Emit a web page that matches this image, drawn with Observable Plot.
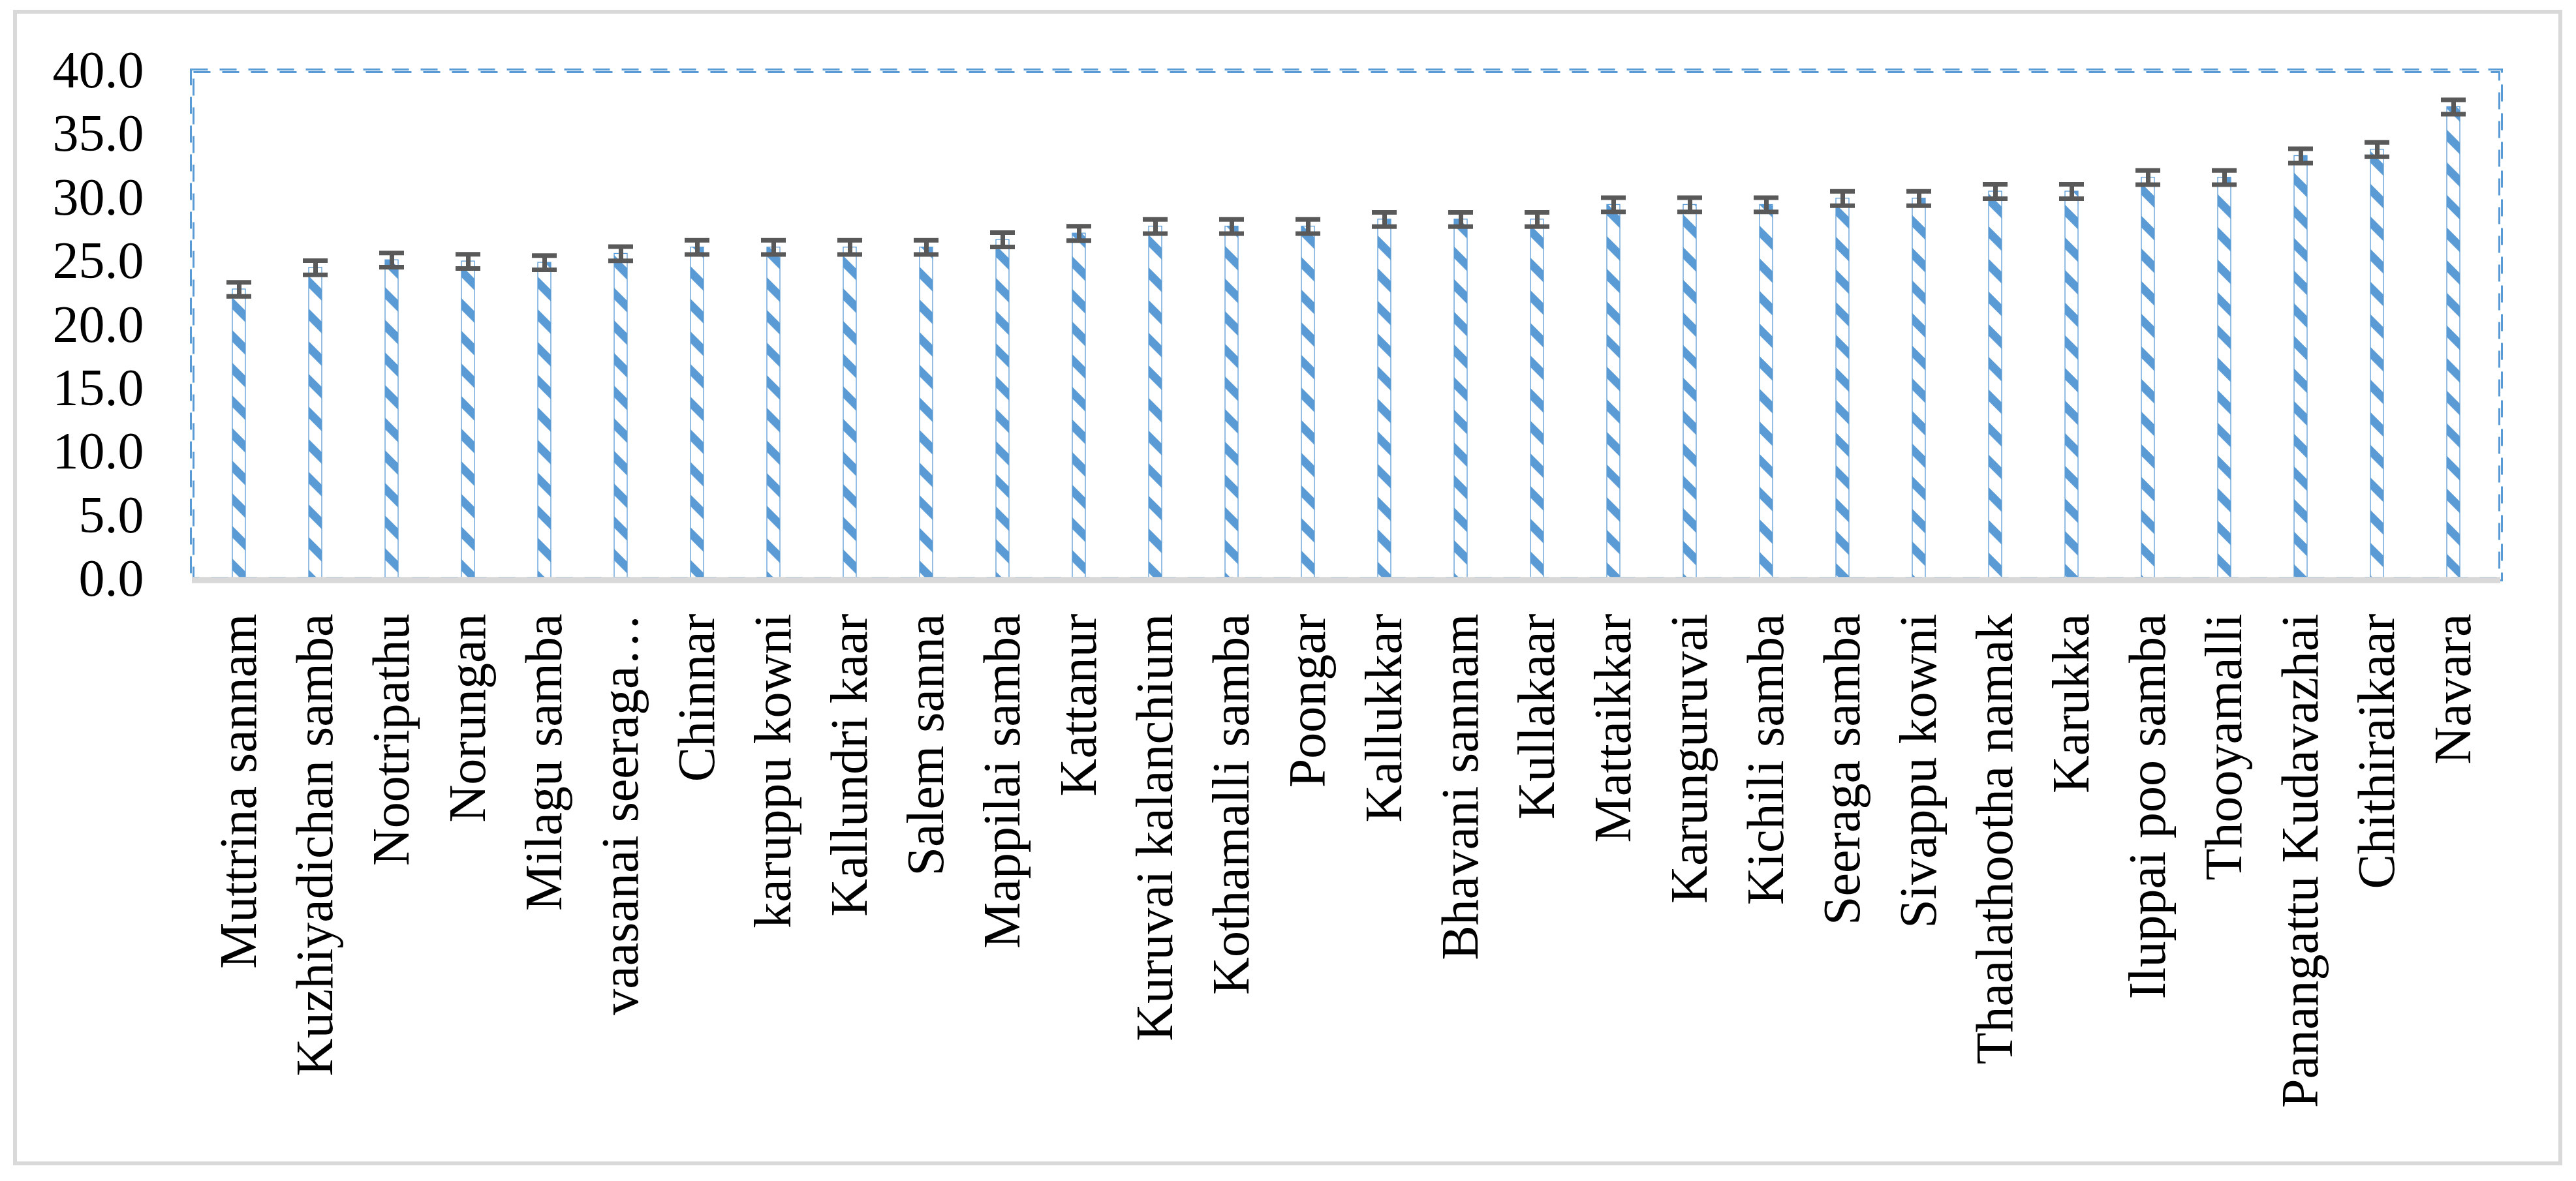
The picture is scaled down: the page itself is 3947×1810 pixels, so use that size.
<!DOCTYPE html>
<html>
<head>
<meta charset="utf-8">
<script src="https://cdn.jsdelivr.net/npm/d3@7"></script>
<script src="https://cdn.jsdelivr.net/npm/@observablehq/plot@0.6"></script>
<style>
html, body { margin: 0; padding: 0; background: #fff; }
#wrap { position: relative; width: 3947px; height: 1810px; overflow: hidden; }
#border { position: absolute; left: 20px; top: 15px; width: 3906px; height: 1771px; box-sizing: border-box; border: 6.5px solid #d9d9d9; pointer-events: none; }
</style>
</head>
<body>
<div id="wrap"><div id="border"></div></div>
<script>
// Rice varieties (categories)
const varieties = [
  "Muttrina sannam", "Kuzhiyadichan samba", "Nootripathu", "Norungan", "Milagu samba",
  "vaasanai seeraga…", "Chinnar", "karuppu kowni", "Kallundri kaar", "Salem sanna",
  "Mappilai samba", "Kattanur", "Kuruvai kalanchium", "Kothamalli samba", "Poongar",
  "Kallukkar", "Bhavani sannam", "Kullakaar", "Mattaikkar", "Karunguruvai",
  "Kichili samba", "Seeraga samba", "Sivappu kowni", "Thaalathootha namak", "Karukka",
  "Iluppai poo samba", "Thooyamalli", "Panangattu Kudavazhai", "Chithiraikaar", "Navara"
];
// Mean values
const meanValues = [
  22.8, 24.5, 25.1, 25.0, 24.9,
  25.6, 26.1, 26.1, 26.1, 26.1,
  26.7, 27.2, 27.75, 27.75, 27.75,
  28.3, 28.3, 28.3, 29.45, 29.45,
  29.45, 29.95, 29.95, 30.5, 30.5,
  31.6, 31.6, 33.3, 33.8, 37.15
];
// Error (± half-length of error bars)
const errorValues = [
  0.55, 0.56, 0.56, 0.56, 0.56,
  0.56, 0.56, 0.56, 0.56, 0.56,
  0.56, 0.56, 0.56, 0.56, 0.56,
  0.56, 0.56, 0.56, 0.56, 0.56,
  0.56, 0.56, 0.56, 0.56, 0.56,
  0.56, 0.56, 0.56, 0.56, 0.56
];
const yTicks = [0, 5, 10, 15, 20, 25, 30, 35, 40];

const data = varieties.map((name, i) => ({name, value: meanValues[i], err: errorValues[i]}));

const blue = "#5b9bd5";
const errColor = "#595959";

const plot = Plot.plot({
  width: 3947,
  height: 1810,
  marginLeft: 294,
  marginRight: 116,
  marginTop: 108,
  marginBottom: 923,
  style: {
    fontFamily: "'Liberation Serif', 'Times New Roman', serif",
    fontSize: "80px",
    color: "#000",
    background: "transparent",
    overflow: "visible"
  },
  x: {domain: varieties, paddingInner: 0.828, paddingOuter: 0.414, label: null},
  y: {domain: [0, 40], label: null},
  marks: [
    Plot.barY(data, {x: "name", y: "value", fill: "url(#stripes)", stroke: blue, strokeWidth: 1.3}),
    Plot.frame({stroke: blue, strokeWidth: 3, strokeDasharray: "26 18", inset: -2}),
    Plot.frame({stroke: blue, strokeWidth: 3, strokeDasharray: "26 18", inset: 2}),
    Plot.ruleY([0], {stroke: "#d9d9d9", strokeWidth: 9.5, dy: 1.5}),
    Plot.ruleX(data, {x: "name", y1: d => d.value - d.err, y2: d => d.value + d.err, stroke: errColor, strokeWidth: 7}),
    Plot.tickY(data, {x: "name", y: d => d.value + d.err, stroke: errColor, strokeWidth: 7, insetLeft: -9, insetRight: -9}),
    Plot.tickY(data, {x: "name", y: d => d.value - d.err, stroke: errColor, strokeWidth: 7, insetLeft: -9, insetRight: -9}),
    Plot.axisY({ticks: yTicks, tickFormat: d3.format(".1f"), tickSize: 0, tickPadding: 74, label: null, fill: "#000"}),
    Plot.axisX({tickRotate: -90, tickSize: 0, tickPadding: 53, label: null, fill: "#000"})
  ]
});

// stripe pattern for the bars
const svg = d3.select(plot);
const defs = svg.insert("defs", ":first-child");
const pat = defs.append("pattern")
  .attr("id", "stripes")
  .attr("patternUnits", "userSpaceOnUse")
  .attr("width", 35.36)
  .attr("height", 35.36)
  .attr("patternTransform", "rotate(45)");
pat.append("rect").attr("width", 35.36).attr("height", 35.36).attr("fill", "#fff");
pat.append("rect").attr("width", 35.36).attr("height", 12.7).attr("fill", blue);

const wrap = document.getElementById("wrap");
wrap.insertBefore(plot, document.getElementById("border"));
</script>
</body>
</html>
